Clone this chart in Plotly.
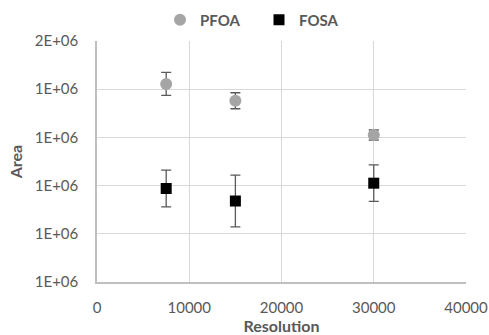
import plotly.graph_objects as go

resolution = [7500, 15000, 30000]
pfoa = [1.411e6, 1.376e6, 1.305e6]
pfoa_err = [0.024e6, 0.0166e6, 0.0104e6]
fosa = [1.194e6, 1.168e6, 1.205e6]
fosa_err = [0.038e6, 0.0536e6, 0.0378e6]

ytick_vals = [1.0e6, 1.1e6, 1.2e6, 1.3e6, 1.4e6, 1.5e6]
ytick_text = ["1E+06", "1E+06", "1E+06", "1E+06", "1E+06", "2E+06"]
xtick_vals = [0, 10000, 20000, 30000, 40000]

font_family = "Lato, 'Open Sans', sans-serif"
gray_txt = "#595959"

fig = go.Figure()
fig.add_trace(go.Scatter(
    x=resolution, y=pfoa, mode="markers", name="<b>PFOA</b>",
    marker=dict(symbol="circle", size=12, color="#A5A5A5"),
    error_y=dict(type="data", array=pfoa_err, visible=True, color="#595959", thickness=1.3, width=5),
))
fig.add_trace(go.Scatter(
    x=resolution, y=fosa, mode="markers", name="<b>FOSA</b>",
    marker=dict(symbol="square", size=11, color="#000000"),
    error_y=dict(type="data", array=fosa_err, visible=True, color="#595959", thickness=1.3, width=5),
))

fig.update_layout(
    width=489, height=335,
    margin=dict(l=97, r=23, t=41, b=53, autoexpand=False),
    paper_bgcolor="white", plot_bgcolor="white",
    font=dict(family=font_family, color=gray_txt, size=15),
    showlegend=True,
    legend=dict(orientation="h", x=(160 - 97) / 369, xanchor="left",
                y=1 - 20 / 335, yanchor="middle", yref="container",
                font=dict(size=15, color=gray_txt, family=font_family),
                entrywidth=54, traceorder="normal",
                bgcolor="rgba(0,0,0,0)"),
    xaxis=dict(
        range=[0, 40000], tickvals=xtick_vals, ticktext=[str(v) for v in xtick_vals],
        showgrid=True, gridcolor="#D9D9D9", gridwidth=1,
        showline=True, linecolor="#BFBFBF", linewidth=1.5,
        zeroline=False, ticks="", tickfont=dict(size=15, color=gray_txt),
        ticklabelstandoff=11, automargin=False,
        title=dict(text="<b>Resolution</b>", font=dict(size=16, color=gray_txt), standoff=0),
    ),
    yaxis=dict(
        range=[1.0e6, 1.5e6], tickvals=ytick_vals, ticktext=ytick_text,
        showgrid=True, gridcolor="#D9D9D9", gridwidth=1,
        showline=True, linecolor="#BFBFBF", linewidth=1.5,
        zeroline=False, ticks="", tickfont=dict(size=15, color=gray_txt),
        ticklabelstandoff=14, automargin=False,
        title=dict(text="<b>Area</b>", font=dict(size=16, color=gray_txt), standoff=8),
    ),
)

fig.write_html("out.html")
